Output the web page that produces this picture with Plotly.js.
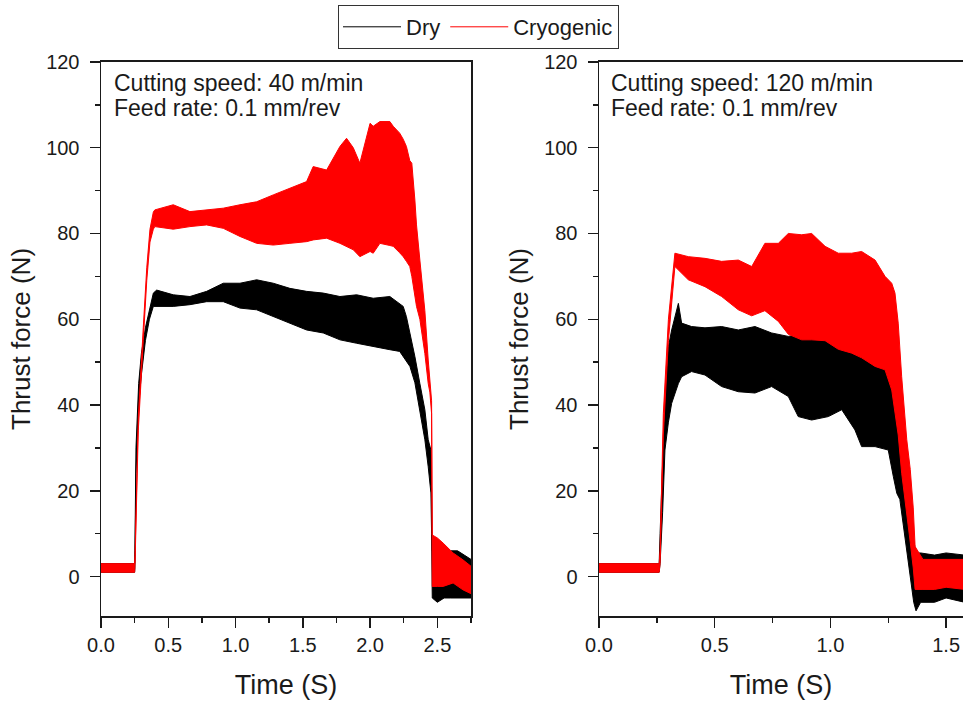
<!DOCTYPE html>
<html>
<head>
<meta charset="utf-8">
<script src="https://cdn.plot.ly/plotly-3.0.1.min.js"></script>
<style>html,body{margin:0;padding:0;background:#fff;}#chart{width:963px;height:704px;}</style>
</head>
<body>
<div id="chart"></div>
<script>
// ---- Data (upper / lower envelope of each oscillating thrust-force signal) ----
// Left panel: cutting speed 40 m/min
const leftDryTime = [0, 0.25, 0.252, 0.26, 0.28, 0.30, 0.33, 0.36, 0.389, 0.414, 0.537, 0.661, 0.785, 0.909, 1.033, 1.157, 1.28, 1.404, 1.528, 1.652, 1.776, 1.9, 2.023, 2.147, 2.22, 2.246, 2.27, 2.296, 2.333, 2.37, 2.407, 2.432, 2.452, 2.457, 2.462, 2.5, 2.55, 2.6, 2.65, 2.7, 2.75];
const leftDryHigh = [3, 3, 6, 30, 45, 52, 58, 62, 66.1, 66.8, 65.7, 65.3, 66.5, 68.4, 68.4, 69.2, 68.4, 67.2, 66.5, 66.1, 65.3, 65.7, 64.9, 65.3, 63.5, 63, 60.6, 56.8, 51.3, 45, 38.9, 31.9, 29.5, 20, 6, 5, 5, 6, 6, 5, 4];
const leftDryLow = [1, 1, 2, 24, 40, 47, 55, 60, 63, 63, 63, 63.4, 64.1, 64.1, 62.6, 62.2, 60.6, 59.1, 57.5, 56.8, 55.2, 54.4, 53.6, 52.9, 52.5, 51.3, 50.5, 49, 45.2, 38.9, 31.9, 25.6, 19.5, 10, -5, -6, -5, -5, -5, -5, -5];

const leftCryoTime = [0, 0.25, 0.253, 0.277, 0.314, 0.34, 0.364, 0.389, 0.40, 0.537, 0.661, 0.785, 0.909, 1.033, 1.157, 1.28, 1.404, 1.528, 1.577, 1.677, 1.776, 1.825, 1.875, 1.924, 2.0, 2.023, 2.073, 2.147, 2.172, 2.22, 2.246, 2.27, 2.295, 2.31, 2.333, 2.345, 2.37, 2.407, 2.432, 2.444, 2.457, 2.462, 2.5, 2.543, 2.617, 2.69, 2.75];
const leftCryoHigh = [3, 3, 5, 37, 58, 72, 81, 85, 85.5, 86.7, 85.1, 85.5, 85.9, 86.7, 87.4, 89, 90.6, 92.1, 95.6, 94.8, 100.3, 102.2, 100, 96.4, 105.7, 105, 106.1, 106.1, 105, 103.4, 102, 100.3, 97, 96.4, 87.8, 82, 73.8, 62, 50.5, 46, 41, 9.7, 9, 7.8, 5.5, 3.9, 2.4];
const leftCryoLow = [1, 1, 3, 34, 55, 69, 78, 81, 81.6, 81, 81.6, 82, 81.2, 79.3, 77.7, 77.3, 77.7, 78.1, 78.5, 78.9, 77.7, 77, 76.2, 74.6, 75.8, 75.4, 77.7, 77.2, 77, 75.5, 74.6, 73.5, 72.3, 70, 66, 63, 60, 52, 45, 43, 38, -2.3, -2.3, -2.3, -1.5, -3.1, -4];

// Right panel: cutting speed 120 m/min
const rightDryTime = [0, 0.26, 0.264, 0.275, 0.285, 0.3, 0.314, 0.343, 0.357, 0.4, 0.458, 0.53, 0.602, 0.674, 0.746, 0.818, 0.861, 0.919, 0.991, 1.049, 1.106, 1.135, 1.193, 1.25, 1.272, 1.287, 1.3, 1.315, 1.33, 1.345, 1.36, 1.37, 1.39, 1.45, 1.5, 1.58];
const rightDryHigh = [3, 3, 10, 28, 42, 53.6, 57.5, 63.7, 59.1, 58.3, 58, 58.3, 57.5, 58.3, 56.8, 56, 56.5, 57, 57.5, 56.8, 55.2, 54.5, 53.6, 55.2, 50, 48.2, 42, 30, 22, 15, 8.5, 5.5, 5.5, 5, 5.5, 5];
const rightDryLow = [1, 1, 3, 15, 29.5, 36, 40.4, 45, 46.6, 47.8, 47, 44.3, 43.1, 42.8, 44.3, 42, 37.3, 36.5, 37.3, 38.9, 34.2, 30.3, 30.3, 29.5, 23.3, 19.4, 18, 12, 5, 0, -6, -8, -6, -6, -5, -6];

const rightCryoTime = [0, 0.26, 0.264, 0.278, 0.3, 0.32, 0.328, 0.386, 0.458, 0.53, 0.602, 0.66, 0.717, 0.775, 0.818, 0.876, 0.919, 0.977, 1.034, 1.092, 1.135, 1.193, 1.236, 1.265, 1.279, 1.293, 1.308, 1.33, 1.345, 1.358, 1.366, 1.4, 1.45, 1.5, 1.58];
const rightCryoHigh = [3, 3, 6, 38, 60, 72, 75.4, 74.6, 74.2, 73.5, 73.8, 72.3, 77.7, 77.7, 80, 79.7, 80, 77, 75.4, 75.4, 75.8, 73.8, 70, 68.4, 66.1, 59.1, 46.6, 31.9, 25, 16, 7, 4, 4, 4, 4];
const rightCryoLow = [1, 1, 3, 33, 55, 68, 72.3, 69.2, 67.6, 65.3, 62.2, 60.8, 62, 59.5, 56.5, 55.2, 55.2, 55, 53, 52.1, 51, 49, 48.2, 43.5, 38, 33, 24.1, 15, 8, 2, -3, -3, -3, -2.5, -3];

const seriesNames = ['Dry', 'Cryogenic'];
const seriesColors = ['#000000', '#ff0000'];
const panelLine1 = ['Cutting speed: 40 m/min', 'Cutting speed: 120 m/min'];
const panelLine2 = ['Feed rate: 0.1 mm/rev', 'Feed rate: 0.1 mm/rev'];

// ---- Build traces: each signal is drawn as the band between its upper and lower envelope ----
function band(t, hi, lo, color, name, xa, ya) {
  return [
    {x: t, y: hi, type: 'scatter', mode: 'lines', name: name, legendgroup: name,
     showlegend: false, xaxis: xa, yaxis: ya, line: {color: color, width: 1}, hoverinfo: 'skip'},
    {x: t, y: lo, type: 'scatter', mode: 'lines', name: name, legendgroup: name,
     showlegend: false, xaxis: xa, yaxis: ya, fill: 'tonexty', fillcolor: color,
     line: {color: color, width: 1}, hoverinfo: 'skip'}
  ];
}
// legend entries (line keys only, no marks of their own)
function legendKey(name, color) {
  return {x: [null], y: [null], type: 'scatter', mode: 'lines', name: name, legendgroup: name,
    showlegend: true, xaxis: 'x', yaxis: 'y', line: {color: color, width: 1}, hoverinfo: 'skip'};
}

const data = [].concat(
  band(leftDryTime, leftDryHigh, leftDryLow, seriesColors[0], seriesNames[0], 'x', 'y'),
  band(leftCryoTime, leftCryoHigh, leftCryoLow, seriesColors[1], seriesNames[1], 'x', 'y'),
  band(rightDryTime, rightDryHigh, rightDryLow, seriesColors[0], seriesNames[0], 'x2', 'y2'),
  band(rightCryoTime, rightCryoHigh, rightCryoLow, seriesColors[1], seriesNames[1], 'x2', 'y2'),
  [legendKey(seriesNames[0], seriesColors[0]), legendKey(seriesNames[1], seriesColors[1])]
);

const fontFam = 'Liberation Sans, Arial, sans-serif';
const ink = '#1a1a1a';

function xAxis(domain, range, anchor) {
  return {
    domain: domain, range: range, anchor: anchor,
    showline: true, linecolor: ink, linewidth: 1.5, mirror: true,
    showgrid: false, zeroline: false,
    ticks: 'outside', ticklen: 10, tickwidth: 1.5, tickcolor: ink,
    dtick: 0.5, tick0: 0, tickformat: '.1f', ticklabelstandoff: 0,
    minor: {ticks: 'outside', ticklen: 5, tickwidth: 1.5, tickcolor: ink, dtick: 0.25, showgrid: false},
    tickfont: {family: fontFam, size: 20, color: ink},
    title: {text: 'Time (S)', font: {family: fontFam, size: 27, color: ink}, standoff: 20}
  };
}
function yAxis(anchor, mirror) {
  return {
    domain: [0.125, 0.912], range: [-9.2, 120], anchor: anchor,
    showline: true, linecolor: ink, linewidth: 1.5, mirror: mirror,
    showgrid: false, zeroline: false,
    ticks: 'outside', ticklen: 10, tickwidth: 1.5, tickcolor: ink,
    dtick: 20, tick0: 0, ticklabelstandoff: 6,
    minor: {ticks: 'outside', ticklen: 5, tickwidth: 1.5, tickcolor: ink, dtick: 10, showgrid: false},
    tickfont: {family: fontFam, size: 20, color: ink},
    title: {text: 'Thrust force (N)', font: {family: fontFam, size: 26, color: ink}, standoff: 8}
  };
}

function note(text, xpx, ypx) {
  return {xref: 'paper', yref: 'paper', x: xpx / 963, y: 1 - ypx / 704, xanchor: 'left', yanchor: 'middle',
    align: 'left', showarrow: false, text: text, font: {family: fontFam, size: 23, color: ink}};
}

const layout = {
  width: 963, height: 704,
  margin: {l: 0, r: 0, t: 0, b: 0},
  paper_bgcolor: '#ffffff', plot_bgcolor: '#ffffff',
  font: {family: fontFam, color: ink},
  showlegend: true,
  legend: {
    orientation: 'h', x: 478.5 / 963, xanchor: 'center', y: 1 - 5 / 704, yanchor: 'top',
    bordercolor: '#333', borderwidth: 1, bgcolor: '#fff',
    font: {family: fontFam, size: 22, color: ink}, itemwidth: 58
  },
  xaxis: xAxis([101 / 963, 471 / 963], [0, 2.75], 'y'),
  yaxis: yAxis('x', true),
  xaxis2: xAxis([599 / 963, 1], [0, 1.573], 'y2'),
  yaxis2: yAxis('x2', false),
  annotations: [
    note(panelLine1[0], 112, 83), note(panelLine2[0], 112, 108),
    note(panelLine1[1], 609, 83), note(panelLine2[1], 609, 108)
  ]
};

Plotly.newPlot('chart', data, layout, {displayModeBar: false, staticPlot: true});
</script>
</body>
</html>
